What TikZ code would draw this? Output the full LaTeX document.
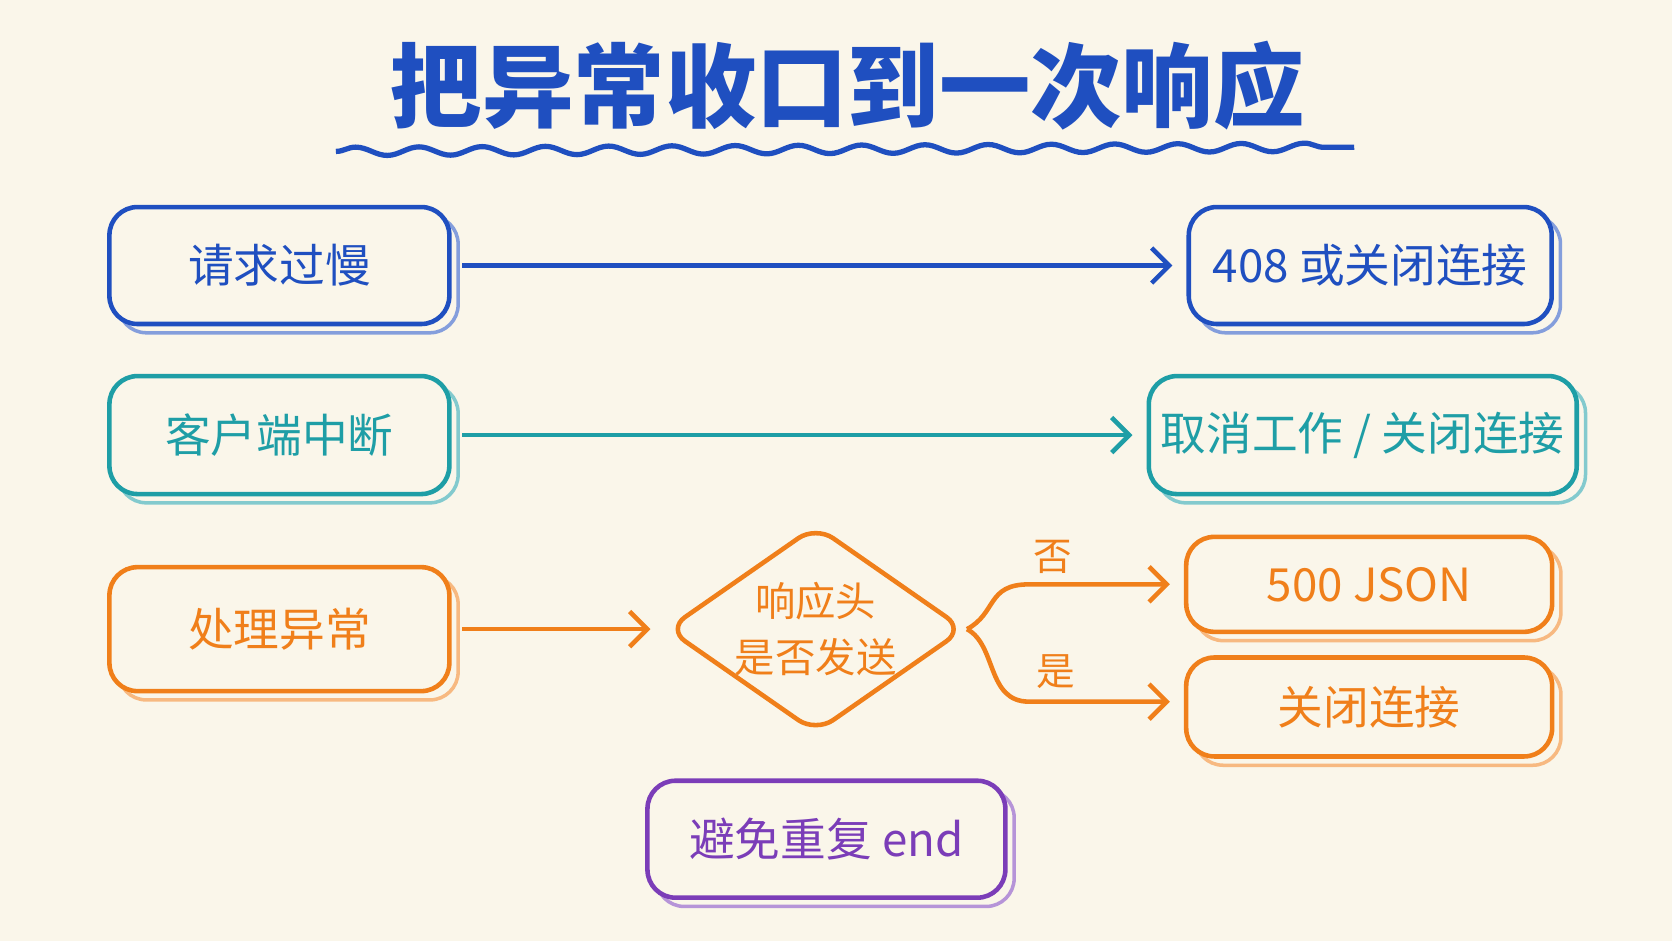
\documentclass[tikz,border=0pt]{standalone}
\usepackage{fontspec}
\setmainfont{Noto Sans CJK SC}
\usetikzlibrary{shapes.geometric,arrows.meta,decorations.pathmorphing,shadows}
\definecolor{paper}{HTML}{FAF6EA}
\definecolor{cblue}{HTML}{1F4FC0}
\definecolor{cteal}{HTML}{1E9EA6}
\definecolor{corange}{HTML}{F07F1A}
\definecolor{cpurple}{HTML}{7B3DB8}
\tikzset{
  box/.style={draw=#1, text=#1, line width=1.3pt, rounded corners=8pt,
    font=\fontsize{13}{16}\selectfont, inner sep=0pt,
    copy shadow={shadow xshift=2.5pt, shadow yshift=-2.5pt, draw=#1!55, fill=paper, line width=1pt}, fill=paper},
  flow/.style={draw=#1, line width=1.3pt, -{Straight Barb[length=5pt,width=10pt]}},
  tag/.style={text=corange, font=\fontsize{11}{13}\selectfont}
}
\begin{document}
\begin{tikzpicture}[x=0.01066cm, y=-0.01066cm]
  \fill[paper] (0,0) rectangle (1568,882);
  \useasboundingbox (0,0) rectangle (1568,882);

  % title
  \node[text=cblue, font=\fontsize{26}{30}\selectfont\bfseries] (title) at (795,80) {把异常收口到一次响应};
  \draw[cblue, line width=1.5pt, decorate, decoration={snake, amplitude=1.2pt, segment length=18pt}]
    (315,142) -- (1270,138);

  % row 1
  \node[box=cblue, minimum width=3.4cm, minimum height=1.17cm] (slow) at (262,249) {请求过慢};
  \node[box=cblue, minimum width=3.63cm, minimum height=1.17cm] (r408) at (1285,249) {408 或关闭连接};
  \draw[flow=cblue] ([xshift=3pt]slow.east) -- ([xshift=-4pt]r408.west);

  % row 2
  \node[box=cteal, minimum width=3.4cm, minimum height=1.18cm] (abort) at (262,408) {客户端中断};
  \node[box=cteal, minimum width=4.28cm, minimum height=1.18cm] (cancel) at (1278,408) {取消工作 / 关闭连接};
  \draw[flow=cteal] ([xshift=3pt]abort.east) -- ([xshift=-4pt]cancel.west);

  % row 3
  \node[box=corange, minimum width=3.4cm, minimum height=1.24cm] (err) at (262,590) {处理异常};
  \node[diamond, draw=corange, text=corange, line width=1.3pt, fill=paper, rounded corners=6pt,
    aspect=1.45, minimum width=2.98cm, minimum height=2.08cm, inner sep=0pt,
    font=\fontsize{11.5}{16}\selectfont, align=center] (sent) at (765,590) {响应头\\是否发送};
  \node[box=corange, minimum width=3.66cm, minimum height=0.95cm] (json) at (1284,548) {500 JSON};
  \node[box=corange, minimum width=3.66cm, minimum height=0.99cm] (close) at (1284,663) {关闭连接};
  \coordinate (up) at (965,548);
  \coordinate (down) at (965,658);
  \draw[flow=corange] ([xshift=3pt]err.east) -- ([xshift=-4pt]sent.west);
  \draw[flow=corange] (sent.east) .. controls (935,575) and (925,548) .. (up) -- ([xshift=-4pt]json.west);
  \draw[flow=corange] (sent.east) .. controls (935,605) and (925,658) .. (down) -- ([xshift=-4pt]close.west |- down);
  \node[tag] (no) at (987,522) {否};
  \node[tag] (yes) at (990,630) {是};

  % note
  \node[box=cpurple, minimum width=3.58cm, minimum height=1.17cm] (dup) at (775,787) {避免重复 end};
\end{tikzpicture}
\end{document}
